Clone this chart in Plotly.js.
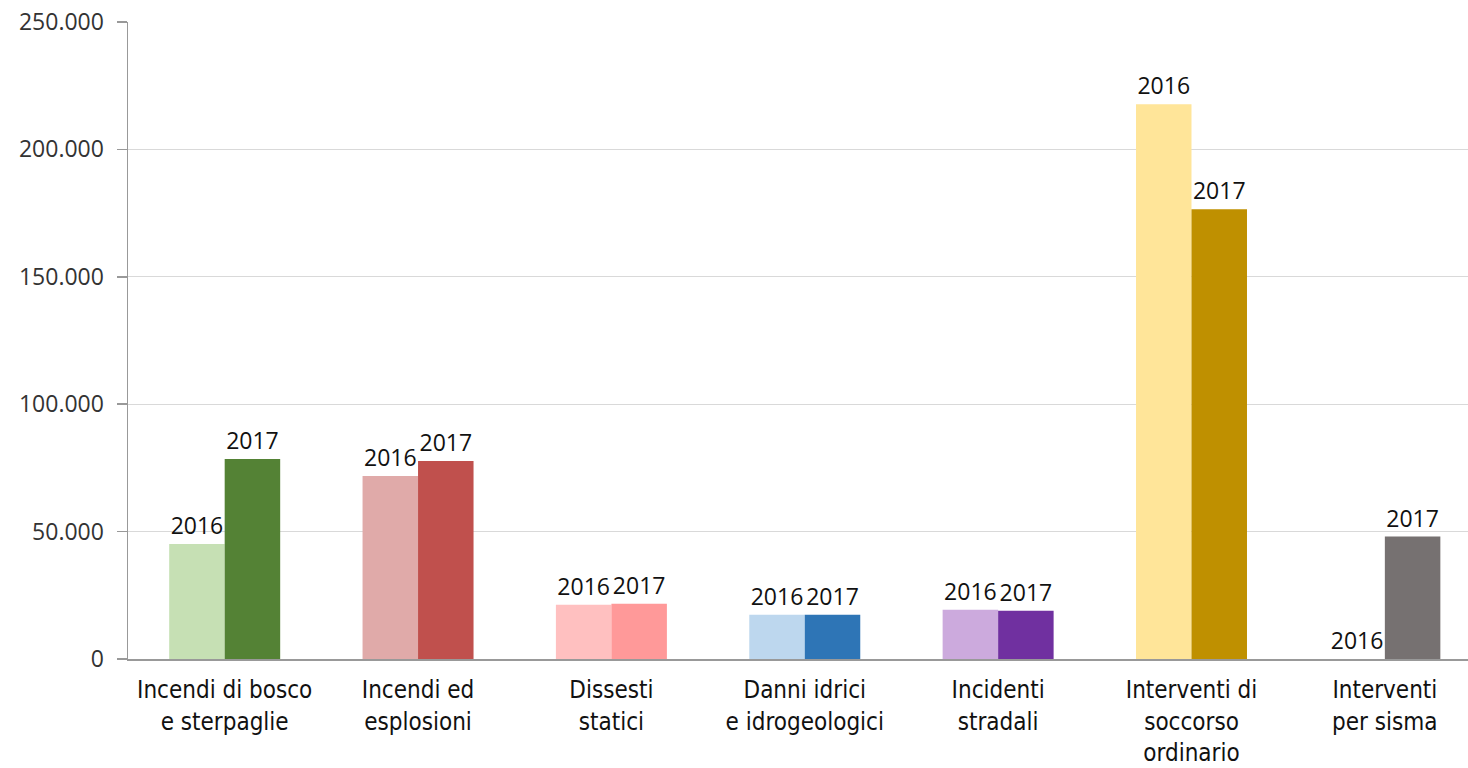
<!DOCTYPE html>
<html>
<head>
<meta charset="utf-8">
<script src="https://cdn.plot.ly/plotly-3.0.1.min.js"></script>
<style>
html,body{margin:0;padding:0;background:#fff;}
#chart{width:1468px;height:768px;}
</style>
</head>
<body>
<div id="chart"></div>
<script>
const categories = [
  "Incendi di bosco<br>e sterpaglie",
  "Incendi ed<br>esplosioni",
  "Dissesti<br>statici",
  "Danni idrici<br>e idrogeologici",
  "Incidenti<br>stradali",
  "Interventi di<br>soccorso<br>ordinario",
  "Interventi<br>per sisma"
];
const values2016 = [45170, 71820, 21270, 17360, 19320, 217700, 0];
const values2017 = [78480, 77700, 21670, 17360, 18920, 176550, 48040];
const colors2016 = ["#c6e0b4", "#e0aaa9", "#ffc0c0", "#bdd7ee", "#ccaadd", "#ffe599", "#ffffff"];
const colors2017 = ["#548235", "#c0504d", "#ff9999", "#2e75b6", "#7030a0", "#bf9000", "#767171"];
const yTicks = [0, 50000, 100000, 150000, 200000, 250000];

const labelFont = {family: "Open Sans, sans-serif", size: 23, color: "#111"};

const traces = [
  {
    type: "bar", name: "2016", x: categories, y: values2016,
    marker: {color: colors2016},
    text: values2016.map(() => "2016"), textposition: "outside",
    textfont: labelFont, cliponaxis: false, hoverinfo: "y"
  },
  {
    type: "bar", name: "2017", x: categories, y: values2017,
    marker: {color: colors2017},
    text: values2017.map(() => "2017"), textposition: "outside",
    textfont: labelFont, cliponaxis: false, hoverinfo: "y"
  }
];

const layout = {
  width: 1468, height: 768,
  margin: {l: 128, r: 0, t: 22, b: 109},
  paper_bgcolor: "#fff", plot_bgcolor: "#fff",
  barmode: "group", bargap: 0.426, bargroupgap: 0,
  showlegend: false,
  separators: ",.",
  xaxis: {
    type: "category", range: [-0.5, 6.43],
    showline: true, linecolor: "#999", linewidth: 1.5,
    ticks: "", showgrid: false,
    tickfont: {family: "DejaVu Sans Condensed, Roboto, sans-serif", size: 24, color: "#111"},
    ticklabelstandoff: 9
  },
  yaxis: {
    range: [0, 250000],
    tickvals: yTicks, tickformat: ",.0f",
    showline: true, linecolor: "#999", linewidth: 1.5,
    ticks: "outside", ticklen: 10, tickcolor: "#999", tickwidth: 1.5,
    showgrid: true, gridcolor: "#d9d9d9", gridwidth: 1,
    zeroline: false,
    tickfont: {family: "Open Sans, sans-serif", size: 23, color: "#333"},
    ticklabelstandoff: 8
  }
};

Plotly.newPlot("chart", traces, layout, {displayModeBar: false, staticPlot: true});
</script>
</body>
</html>
